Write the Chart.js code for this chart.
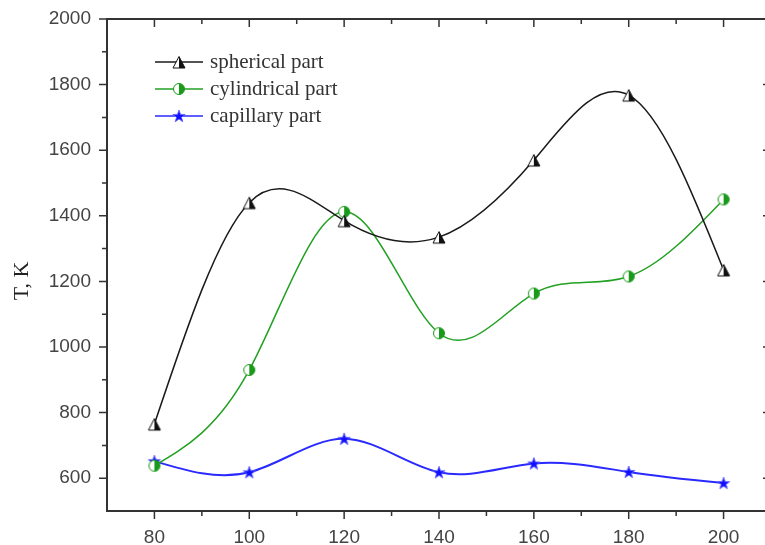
<!DOCTYPE html>
<html><head><meta charset="utf-8">
<script src="https://cdn.jsdelivr.net/npm/chart.js@4"></script>
<style>html,body{margin:0;padding:0;overflow:hidden;background:#fff}
#wrap{position:relative;width:779px;height:545px}</style></head>
<body><div id="wrap"><canvas id="c"></canvas></div>
<script>
const xValues = [80, 100, 120, 140, 160, 180, 200];
const spherical = [765, 1440, 1385, 1335, 1570, 1768, 1235];
const cylindrical = [638, 930, 1412, 1042, 1163, 1215, 1450];
const capillary = [652, 618, 720, 618, 645, 619, 585];
const xTicks = [80, 100, 120, 140, 160, 180, 200];
const xMinor = [90, 110, 130, 150, 170, 190];
const yTicks = [600, 800, 1000, 1200, 1400, 1600, 1800, 2000];
const yMinor = [700, 900, 1100, 1300, 1500, 1700, 1900];
const seriesNames = ['spherical part', 'cylindrical part', 'capillary part'];
const yTitle = 'T, K';

function mk(draw){const c=document.createElement('canvas');c.width=16;c.height=16;const g=c.getContext('2d');draw(g);return c;}
const triImg = mk(g=>{
  g.beginPath();g.moveTo(2,14);g.lineTo(8,2.5);g.lineTo(8,14);g.closePath();g.fillStyle='#fff';g.fill();
  g.beginPath();g.moveTo(8,2.5);g.lineTo(14,14);g.lineTo(8,14);g.closePath();g.fillStyle='#111';g.fill();
  g.beginPath();g.moveTo(2,14);g.lineTo(8,2.5);g.lineTo(14,14);g.closePath();g.strokeStyle='#111';g.lineWidth=1;g.stroke();
});
const cirImg = mk(g=>{
  g.beginPath();g.arc(8,8,5.5,Math.PI/2,Math.PI*1.5);g.closePath();g.fillStyle='#fff';g.fill();
  g.beginPath();g.arc(8,8,5.5,-Math.PI/2,Math.PI/2);g.closePath();g.fillStyle='#1a9a1a';g.fill();
  g.beginPath();g.arc(8,8,5.5,0,Math.PI*2);g.strokeStyle='#1a9a1a';g.lineWidth=1;g.stroke();
});
const starImg = mk(g=>{
  g.beginPath();
  for(let i=0;i<10;i++){const r=i%2?2.6:6.5;const a=-Math.PI/2+i*Math.PI/5;g.lineTo(8+r*Math.cos(a),8.5+r*Math.sin(a));}
  g.closePath();g.fillStyle='#1010ff';g.fill();g.strokeStyle='#6060ff';g.lineWidth=0.8;g.stroke();
});
const colors = ['#1a1a1a', '#22a022', '#2a2aff'];
const imgs = [triImg, cirImg, starImg];
const vals = [spherical, cylindrical, capillary];

// natural cubic spline tangents for the library's bezier control points
const splinePlugin = {
  id:'naturalSpline',
  beforeDatasetsDraw(chart){
    chart.getSortedVisibleDatasetMetas().forEach(meta=>{
      const line=meta.dataset;const pts=meta.data;
      if(line && line.updateControlPoints) line.updateControlPoints(chart.chartArea,'x');
      const n=pts.length;if(n<3)return;
      const X=pts.map(p=>p.x),Y=pts.map(p=>p.y);
      const h=[];for(let i=0;i<n-1;i++)h.push(X[i+1]-X[i]);
      const a=new Array(n).fill(0),b=new Array(n).fill(1),c=new Array(n).fill(0),d=new Array(n).fill(0);
      for(let i=1;i<n-1;i++){a[i]=h[i-1];b[i]=2*(h[i-1]+h[i]);c[i]=h[i];d[i]=6*((Y[i+1]-Y[i])/h[i]-(Y[i]-Y[i-1])/h[i-1]);}
      for(let i=1;i<n;i++){const w=a[i]/b[i-1];b[i]-=w*c[i-1];d[i]-=w*d[i-1];}
      const M=new Array(n).fill(0);M[n-1]=d[n-1]/b[n-1];
      for(let i=n-2;i>=0;i--)M[i]=(d[i]-c[i]*M[i+1])/b[i];
      M[0]=0;M[n-1]=0;
      const m=new Array(n);
      for(let i=0;i<n-1;i++)m[i]=(Y[i+1]-Y[i])/h[i]-h[i]*(2*M[i]+M[i+1])/6;
      m[n-1]=(Y[n-1]-Y[n-2])/h[n-2]+h[n-2]*(M[n-2]+2*M[n-1])/6;
      for(let i=0;i<n;i++){
        const hp=i>0?h[i-1]:0,hn=i<n-1?h[i]:0;
        pts[i].cp1x=X[i]-hp/3;pts[i].cp1y=Y[i]-m[i]*hp/3;
        pts[i].cp2x=X[i]+hn/3;pts[i].cp2y=Y[i]+m[i]*hn/3;
      }
    });
  }
};

const framePlugin = {
  id:'frame',
  afterDraw(chart){
    const ctx=chart.ctx;const {left,right,top,bottom}=chart.chartArea;const x=chart.scales.x,y=chart.scales.y;
    ctx.save();ctx.strokeStyle='#333';ctx.lineWidth=2;
    ctx.beginPath();ctx.moveTo(left-1,top);ctx.lineTo(right+1,top);ctx.moveTo(right,top);ctx.lineTo(right,bottom);ctx.stroke();
    ctx.lineWidth=1.5;ctx.beginPath();
    xTicks.forEach(v=>{const p=x.getPixelForValue(v);ctx.moveTo(p,bottom);ctx.lineTo(p,bottom+8);ctx.moveTo(p,top);ctx.lineTo(p,top+8);});
    xMinor.forEach(v=>{const p=x.getPixelForValue(v);ctx.moveTo(p,bottom);ctx.lineTo(p,bottom+5);ctx.moveTo(p,top);ctx.lineTo(p,top+5);});
    yTicks.forEach(v=>{const p=y.getPixelForValue(v);ctx.moveTo(left-8,p);ctx.lineTo(left,p);ctx.moveTo(right-8,p);ctx.lineTo(right,p);});
    yMinor.forEach(v=>{const p=y.getPixelForValue(v);ctx.moveTo(left-5,p);ctx.lineTo(left,p);ctx.moveTo(right-5,p);ctx.lineTo(right,p);});
    ctx.stroke();
    ctx.translate(22, (top+bottom)/2+16);ctx.rotate(-Math.PI/2);
    ctx.fillStyle='#222';ctx.font='22px "Liberation Serif"';ctx.textAlign='center';ctx.textBaseline='middle';
    ctx.fillText(yTitle,0,0);
    ctx.restore();
  }
};
const legendPlugin = {
  id:'innerLegend',
  afterDraw(chart){
    const ctx=chart.ctx;const {left,top}=chart.chartArea;
    ctx.save();
    seriesNames.forEach((n,i)=>{
      const yy=top+43+i*27;
      ctx.strokeStyle=colors[i];ctx.lineWidth=1.5;ctx.beginPath();ctx.moveTo(left+48,yy);ctx.lineTo(left+96,yy);ctx.stroke();
      ctx.drawImage(imgs[i],left+72-8,yy-8);
      ctx.fillStyle='#333';ctx.font='21px "Liberation Serif"';ctx.textBaseline='middle';ctx.fillText(n,left+103,yy);
    });
    ctx.restore();
  }
};

new Chart(document.getElementById('c'), {
  type:'line',
  data:{datasets: vals.map((v,i)=>({
    label: seriesNames[i],
    data: xValues.map((xv,j)=>({x:xv,y:v[j]})),
    borderColor: colors[i], borderWidth: i===2?2:1.5, tension: 0.4,
    pointStyle: imgs[i], pointRadius: 6, fill:false
  }))},
  options:{
    responsive:true, maintainAspectRatio:false, animation:false,
    layout:{padding:{top:19,right:8,left:0,bottom:0}},
    plugins:{legend:{display:false},tooltip:{enabled:false}},
    scales:{
      x:{type:'linear',min:70,max:210,
        afterBuildTicks:s=>{s.ticks=xTicks.map(v=>({value:v}));},
        afterFit:s=>{s.height=34;s.paddingLeft=0;s.paddingRight=0;},
        grid:{display:false,drawTicks:false},
        border:{display:true,color:'#333',width:2},
        ticks:{padding:15,color:'#444',font:{family:'Liberation Sans',size:19},maxRotation:0,callback:v=>String(v)}},
      y:{min:500,max:2000,
        afterBuildTicks:s=>{s.ticks=yTicks.map(v=>({value:v}));},
        afterFit:s=>{s.width=107;s.paddingTop=0;s.paddingBottom=0;},
        grid:{display:false,drawTicks:false},
        border:{display:true,color:'#333',width:2},
        ticks:{padding:16,color:'#444',font:{family:'Liberation Sans',size:19},callback:v=>String(v)}}
    }
  },
  plugins:[splinePlugin, framePlugin, legendPlugin]
});
</script></body></html>
